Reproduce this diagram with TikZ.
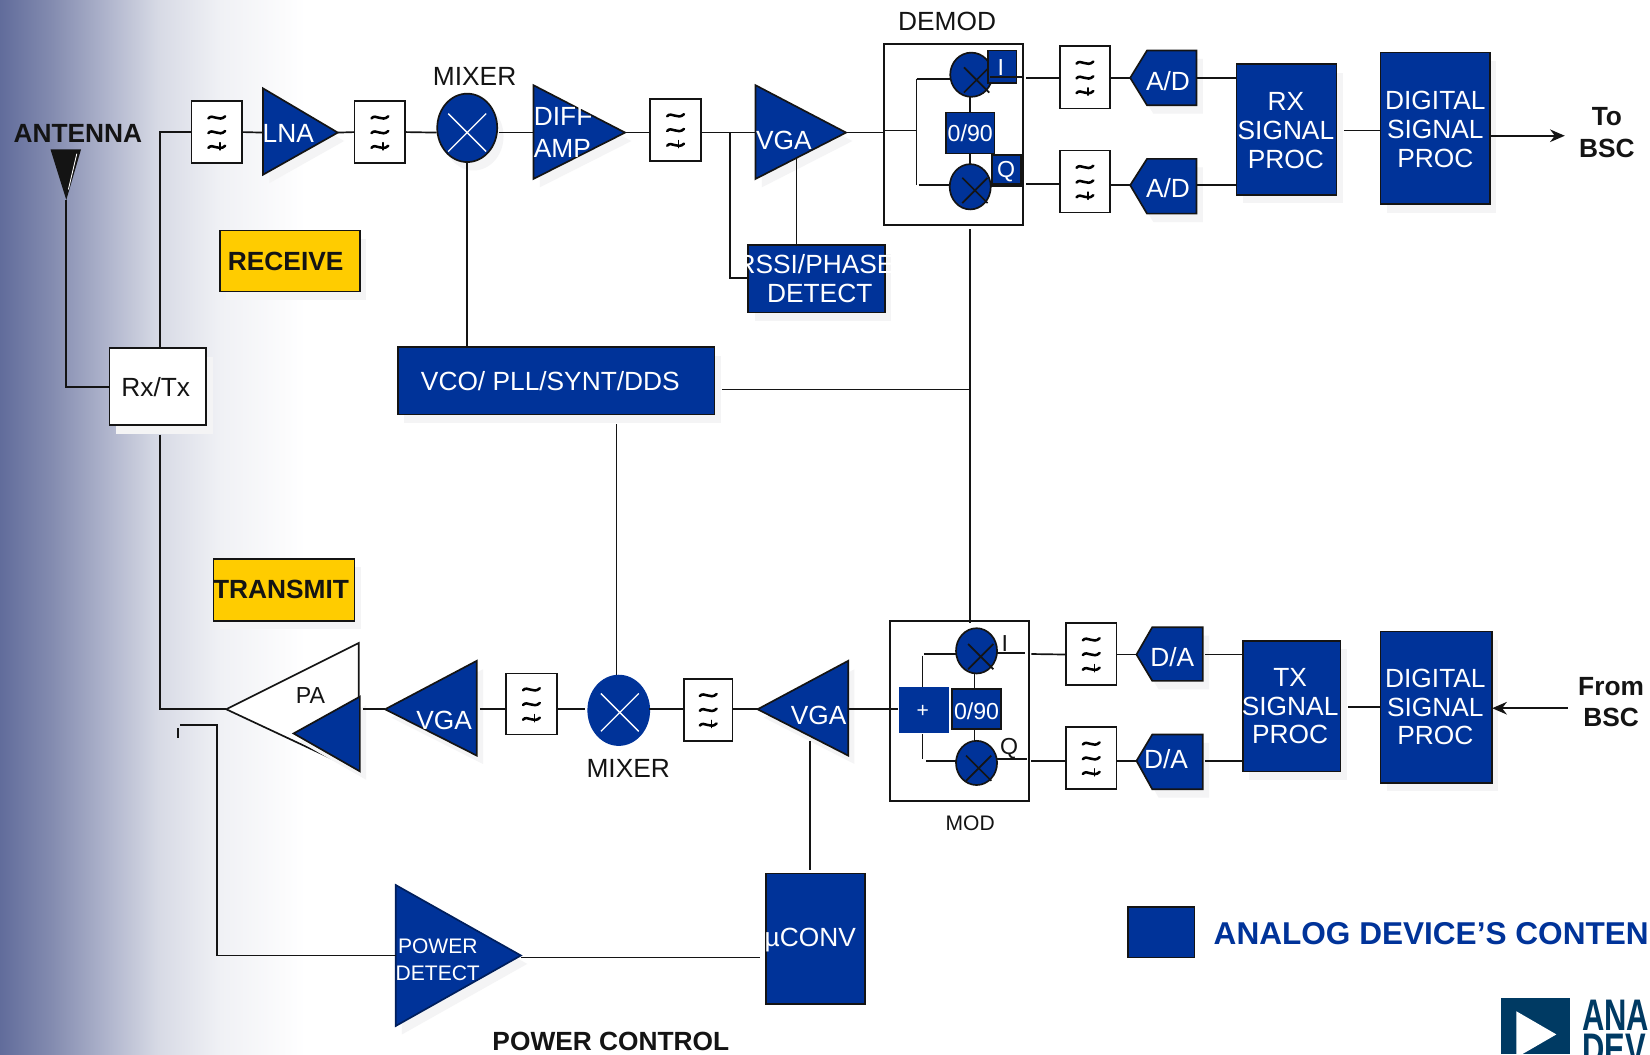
\documentclass[tikz,border=0pt]{standalone}
\usepackage{fontspec}
\setmainfont{Liberation Sans}
\usetikzlibrary{fit,shadows,arrows.meta,shapes.geometric}
\definecolor{adblue}{RGB}{0,51,153}
\definecolor{adyellow}{RGB}{255,204,0}
\definecolor{ink}{RGB}{20,20,20}
\definecolor{logoblue}{RGB}{0,58,99}
\definecolor{shadegrey}{RGB}{244,244,245}
\definecolor{fadeA}{RGB}{97,108,155}
\definecolor{fadeB}{RGB}{132,140,176}
\definecolor{fadeC}{RGB}{178,183,206}
\definecolor{fadeD}{RGB}{215,218,229}
\definecolor{fadeE}{RGB}{240,241,245}
\pgfdeclarehorizontalshading{bgfade}{100bp}{color(0bp)=(fadeA); color(25bp)=(fadeA); color(33.6bp)=(fadeB); color(43.1bp)=(fadeC); color(50.9bp)=(fadeD); color(61.2bp)=(fadeE); color(75bp)=(white); color(100bp)=(white)}
\tikzset{
  shd/.style={general shadow={shadow xshift=3pt,shadow yshift=-4pt,fill=shadegrey}},
  box/.style={draw=ink,line width=0.8pt,inner sep=0pt,outer sep=0pt},
  bluebox/.style={box,fill=adblue,text=white},
  whitebox/.style={box,fill=white,text=ink},
  yellowbox/.style={box,fill=adyellow,shd},
  bluetri/.style={draw=ink,line width=0.8pt,fill=adblue,line join=miter,shd},
  wire/.style={draw=ink,line width=0.8pt},
  wave/.style={draw=black,line width=1.2pt,line cap=round},
  whitex/.style={draw=white,line width=0.6pt},
  blackx/.style={draw=ink,line width=0.8pt},
  big/.style={font=\fontsize{12.5}{13.6}\selectfont,align=center,inner sep=0pt},
  mid/.style={font=\fontsize{11}{12}\selectfont,align=center,inner sep=0pt},
  small/.style={font=\fontsize{10}{12.4}\selectfont,align=center,inner sep=0pt},
  wt/.style={text=white},
  dk/.style={text=ink},
  bd/.style={font=\fontsize{12.5}{15}\selectfont\bfseries,align=center,inner sep=0pt,text=ink},
  filt/.style={whitebox},
  mix/.style={draw=ink,line width=0.8pt,fill=adblue,ellipse,inner sep=0pt,outer sep=0pt},
  logotext/.style={anchor=base west,inner sep=0pt,text=logoblue,font=\fontsize{21}{21}\selectfont\bfseries},
}
\newcommand{\filtnode}[5]{%
  \node[filt,fit={(#2,#3)(#4,#5)}] (#1) {};
  \begin{scope}[shift={(#1.center)}]
    \foreach \yy in {-14,0,14}
      \draw[wave] (-8,\yy+1) .. controls (-4,\yy-4) and (2,\yy+5) .. (8,\yy-1);
    \draw[wave,line width=0.6pt] (3,10) -- (3,17);
  \end{scope}}
\newcommand{\crossmark}[4]{%
  \draw[#4] (#1-#3,#2-#3) -- (#1+#3,#2+#3) (#1-#3,#2+#3) -- (#1+#3,#2-#3);}
\begin{document}
\begin{tikzpicture}[x=0.5pt,y=-0.5pt]
\path[use as bounding box,clip] (0,0) rectangle (1568,1002);
\fill[white] (0,0) rectangle (1568,1002);
\shade[shading=bgfade] (0,0) rectangle (290,1002);

% --- text-only labels
\node[bd] (antlabel) at (74,127) {ANTENNA};
\node[big,dk] (mixlabelA) at (451,73) {MIXER};
\node[big,dk] (demodlabel) at (900,20) {DEMOD};
\node[big,dk] (mixlabelB) at (597,730) {MIXER};
\node[small,dk] (modlabel) at (922,782) {MOD};
\node[bd] (tobsc) at (1527,126) {To\\BSC};
\node[bd] (frombsc) at (1531,667) {From\\BSC};
\node[bd] (pwrctl) at (580.5,990) {POWER CONTROL};

% --- antenna
\coordinate (antTip) at (63,190);
\fill[ink] (48,142) -- (77,142) -- (antTip) -- cycle;
\draw[white,line width=0.4pt] (73,146) -- (65,180);

% --- left blocks
\node[whitebox,shd,fit={(104,331)(196,404)}] (rxtx) {};
\node[big,dk] (rxtxtxt) at (148,368) {Rx/Tx};
\node[yellowbox,fit={(209,219)(342,277)}] (receive) {};
\node[bd] (receivetxt) at (271.5,248) {RECEIVE};
\node[yellowbox,fit={(203,531)(337,590)}] (transmit) {};
\node[bd] (transmittxt) at (267,560) {TRANSMIT};

% --- receive chain
\filtnode{fa}{182}{96}{230}{155}
\coordinate (lnaIn) at (250,126); \coordinate (lnaOut) at (321,126);
\draw[bluetri] (250,84) -- (lnaOut) -- (250,166) -- cycle;
\node[big,wt] (lnatxt) at (274,127) {LNA};
\filtnode{fb}{337}{96}{385}{155}
\node[mix,shd,minimum width=28.5pt,minimum height=32.5pt] (mixa) at (444,121.5) {};
\crossmark{444}{126}{18}{whitex}
\coordinate (diffIn) at (507,126); \coordinate (diffOut) at (594,126);
\draw[bluetri] (507,81) -- (diffOut) -- (507,170) -- cycle;
\node[big,wt,anchor=west] (difftxtA) at (507,111) {DIFF};
\node[big,wt,anchor=west] (difftxtB) at (507,141) {AMP};
\filtnode{fc}{618}{94}{666}{153}
\coordinate (vgaaIn) at (718,126); \coordinate (vgaaOut) at (804,126); \coordinate (vgaaBot) at (757,150);
\draw[bluetri] (718,81) -- (vgaaOut) -- (718,170) -- cycle;
\node[big,wt] (vgaatxt) at (745,133) {VGA};
\node[bluebox,shd,fit={(711,233)(841,297)}] (rssi) {};
\node[big,wt] (rssitxtA) at (775,251) {RSSI/PHASE};
\node[big,wt] (rssitxtB) at (779,279) {DETECT};

% --- demodulator
\node[whitebox,fit={(840,42)(972,214)}] (demod) {};
\node[mix,minimum width=20pt,minimum height=21pt] (dmI) at (923,71) {};
\crossmark{928}{76}{12}{blackx}
\node[bluebox,fit={(939,48)(966,79)}] (boxI) {};
\node[mid,wt] (boxItxt) at (951,64) {I};
\node[bluebox,fit={(899,107)(945,146)}] (shiftA) {};
\node[mid,wt] (shiftAtxt) at (922,127) {0/90};
\node[mix,minimum width=19.5pt,minimum height=21.5pt] (dmQ) at (922,177.5) {};
\crossmark{926.5}{181}{12}{blackx}
\node[bluebox,fit={(943,147)(970,177)}] (boxQ) {};
\node[mid,wt] (boxQtxt) at (956,163) {Q};
\filtnode{fd}{1007}{44}{1055}{103}
\filtnode{fe}{1007}{143}{1055}{202}
\coordinate (adaTip) at (1074,74);
\draw[bluetri] (adaTip) -- (1090,48) -- (1137,48) -- (1137,100) -- (1090,100) -- cycle;
\node[big,wt] (adatxt) at (1110,77) {A/D};
\coordinate (adbTip) at (1074,176);
\draw[bluetri] (adbTip) -- (1090,151) -- (1137,151) -- (1137,203) -- (1090,203) -- cycle;
\node[big,wt] (adbtxt) at (1110,179) {A/D};
\node[bluebox,shd,fit={(1175,61)(1270,185)}] (rxproc) {};
\node[big,wt] (rxproctxt) at (1222,124) {RX\\SIGNAL\\PROC};
\node[bluebox,shd,fit={(1312,50)(1416,194)}] (rxdsp) {};
\node[big,wt] (rxdsptxt) at (1364,123) {DIGITAL\\SIGNAL\\PROC};

% --- synthesiser
\node[bluebox,shd,fit={(378,330)(679,394)}] (vco) {};
\node[big,wt] (vcotxt) at (523,362) {VCO/ PLL/SYNT/DDS};

% --- transmit chain
\coordinate (paTip) at (215,674);
\draw[draw=ink,line width=0.8pt,fill=white] (paTip) -- (341,611) -- (341,733) -- cycle;
\node[mid,dk] (patxt) at (295,661) {PA};
\coordinate (pabTip) at (279,697); \coordinate (pabIn) at (345,674);
\draw[bluetri] (pabTip) -- (342,662) -- (342,733) -- cycle;
\coordinate (vgabTip) at (366,674); \coordinate (vgabIn) at (456,674);
\draw[bluetri] (vgabTip) -- (453,628) -- (453,718) -- cycle;
\node[big,wt] (vgabtxt) at (422,685) {VGA};
\filtnode{ff}{481}{640}{529}{698}
\node[mix,draw=adblue,minimum width=29pt,minimum height=33pt] (mixb) at (588,675) {};
\crossmark{589}{677}{18}{whitex}
\filtnode{fg}{650}{645}{696}{704}
\coordinate (vgacTip) at (720,674); \coordinate (vgacIn) at (806,674); \coordinate (vgacBot) at (770,704);
\draw[bluetri] (vgacTip) -- (806,628) -- (806,718) -- cycle;
\node[big,wt] (vgactxt) at (778,680) {VGA};

% --- modulator
\node[whitebox,fit={(846,590)(978,761)}] (mod) {};
\node[mix,minimum width=19.5pt,minimum height=21.5pt] (mmI) at (928,618.5) {};
\crossmark{932}{624}{12}{blackx}
\node[mix,minimum width=19.5pt,minimum height=21pt] (mmQ) at (928,725) {};
\crossmark{930}{730}{12}{blackx}
\node[fill=adblue,inner sep=0pt,fit={(854,653)(902,697)}] (plus) {};
\node[small,wt] (plustxt) at (877,676) {+};
\node[bluebox,fit={(905,655)(951,693)}] (shiftB) {};
\node[mid,wt] (shiftBtxt) at (928,676) {0/90};
\node[mid,dk] (lblI) at (955,612) {I};
\node[mid,dk] (lblQ) at (959,711) {Q};
\filtnode{fh}{1013}{592}{1061}{651}
\filtnode{fi}{1013}{691}{1061}{750}
\coordinate (daaTip) at (1080,622);
\draw[bluetri] (daaTip) -- (1095,596) -- (1143,596) -- (1143,647) -- (1095,647) -- cycle;
\node[big,wt] (daatxt) at (1114,624) {D/A};
\coordinate (dabTip) at (1080,723);
\draw[bluetri] (dabTip) -- (1095,698) -- (1143,698) -- (1143,750) -- (1095,750) -- cycle;
\node[big,wt] (dabtxt) at (1108,721) {D/A};
\node[bluebox,shd,fit={(1181,609)(1274,733)}] (txproc) {};
\node[big,wt] (txproctxt) at (1226,671) {TX\\SIGNAL\\PROC};
\node[bluebox,shd,fit={(1312,600)(1418,744)}] (txdsp) {};
\node[big,wt] (txdsptxt) at (1364,672) {DIGITAL\\SIGNAL\\PROC};

% --- power control
\coordinate (pdIn) at (376,908); \coordinate (pdOut) at (495,908);
\draw[bluetri,draw=adblue!60!black] (376,841) -- (pdOut) -- (376,975) -- cycle;
\node[small,wt] (pdtxt) at (416,912) {POWER\\DETECT};
\node[bluebox,fit={(728,830)(822,954)}] (uconv) {};
\node[big,wt] (uconvtxt) at (770,893) {µCONV};

% --- legend and logo
\node[bluebox,fit={(1072,862)(1135,910)}] (legendbox) {};
\node[anchor=west,inner sep=0pt,text=adblue,font=\fontsize{15}{18}\selectfont\bfseries] (legendtxt) at (1153,887) {ANALOG DEVICE’S CONTEN};
\node[fill=logoblue,inner sep=0pt,fit={(1426,948)(1492,1002)}] (logosq) {};
\fill[white] (1441,961) -- (1479,983) -- (1441,1005) -- cycle;
\node[logotext] (logoA) at (1503,979) {\scalebox{0.7}[1]{ANA}};
\node[logotext] (logoB) at (1503,1012) {\scalebox{0.7}[1]{DEV}};

% --- connectors: receive side
\draw[wire] (antTip) |- (rxtx.west);
\draw[wire] (rxtx.north -| 152,0) |- (fa.west);
\draw[wire] (fa.east) -- (lnaIn);
\draw[wire] (lnaOut) -- (fb.west);
\coordinate (mixaW) at (415,126); \coordinate (mixaE) at (474,126);
\draw[wire] (fb.east) -- (mixaW);
\draw[wire] (mixaE) -- (diffIn);
\draw[wire] (diffOut) -- (fc.west |- diffOut);
\draw[wire] (fc.east |- vgaaIn) -- (vgaaIn);
\coordinate (branchA) at (694,126); \coordinate (branchB) at (694,264);
\draw[wire] (branchA) -- (branchB) -- (rssi.west |- branchB);
\draw[wire] (vgaaBot) -- (vgaaBot |- rssi.north);
\draw[wire] (vgaaOut) -- (demod.west |- vgaaOut);
\draw[wire] (demod.west |- 0,124) -- (871,124);
\coordinate (dmLa) at (871,75); \coordinate (dmLb) at (871,176);
\draw[wire] (dmLa) -- (dmLb);
\draw[wire] (dmLa) -- (dmI.west |- dmLa);
\draw[wire] (873,176) -- (dmQ.west |- dmLb);
\draw[wire] (dmI.south -| shiftA.north) -- (shiftA.north);
\draw[wire] (shiftA.south) -- (dmQ.north -| shiftA.south);
\draw[wire] (941,73) -- (971,73);
\draw[wire] (975,74) -- (fd.west |- adaTip);
\draw[wire] (943,175) -- (971,175);
\draw[wire] (975,175) -- (fe.west |- 0,175);
\draw[wire] (fd.east |- adaTip) -- (adaTip);
\draw[wire] (fe.east |- adbTip) -- (adbTip);
\draw[wire] (1137,74) -- (rxproc.west |- 0,74);
\draw[wire] (1137,176) -- (rxproc.west |- 0,176);
\draw[wire] (1277,124) -- (rxdsp.west |- 0,124);
\draw[wire,-{Stealth[length=7pt,width=6pt]}] (rxdsp.east |- 0,129) -- (1487,129);
% --- connectors: synthesiser
\draw[wire] (mixa.south) -- (mixa.south |- vco.north);
\draw[wire] (922,218) -- (922,592);
\draw[wire] (686,370) -- (922,370);
\draw[wire] (586,403) -- (586,641);
% --- connectors: transmit side
\draw[wire] (152,413) |- (paTip);
\draw[wire] (pabIn) -- (vgabTip);
\draw[wire] (vgabIn) -- (ff.west |- vgabIn);
\draw[wire] (ff.east |- vgabIn) -- (556,674);
\draw[wire] (617,674) -- (fg.west |- vgabIn);
\draw[wire] (fg.east |- vgabIn) -- (vgacTip);
\draw[wire] (vgacIn) -- (plus.west |- vgacIn);
\draw[wire] (vgacBot) -- (770,827);
\draw[wire] (876.5,623) -- (plus.north -| 876.5,0);
\draw[wire] (plus.south -| 876.5,0) -- (876.5,721);
\draw[wire] (878,621.5) -- (mmI.west |- 0,621.5);
\draw[wire] (880,723) -- (mmQ.west |- 0,723);
\draw[wire] (mmI.south -| 926,0) -- (shiftB.north -| 926,0);
\draw[wire] (shiftB.south -| 926,0) -- (mmQ.north -| 926,0);
\draw[wire] (947,620.5) -- (974,620.5);
\draw[wire] (947,721) -- (976,721);
\draw[wire] (980,621.5) -- (fh.west |- daaTip);
\draw[wire] (980,723) -- (fi.west |- dabTip);
\draw[wire] (fh.east |- daaTip) -- (daaTip);
\draw[wire] (fi.east |- dabTip) -- (dabTip);
\draw[wire] (1145,622) -- (txproc.west |- daaTip);
\draw[wire] (1145,723) -- (txproc.west |- dabTip);
\draw[wire] (1281,672) -- (txdsp.west |- 0,672);
\draw[wire,-{Stealth[length=7pt,width=6pt]}] (1490,673) -- (txdsp.east |- 0,673);
% --- connectors: power control
\draw[wire] (pdIn) -| (206,689) -- (171,689);
\draw[wire] (169,692) -- (169,701);
\draw[wire] (pdOut |- 0,910) -- (722,910);
\end{tikzpicture}
\end{document}
